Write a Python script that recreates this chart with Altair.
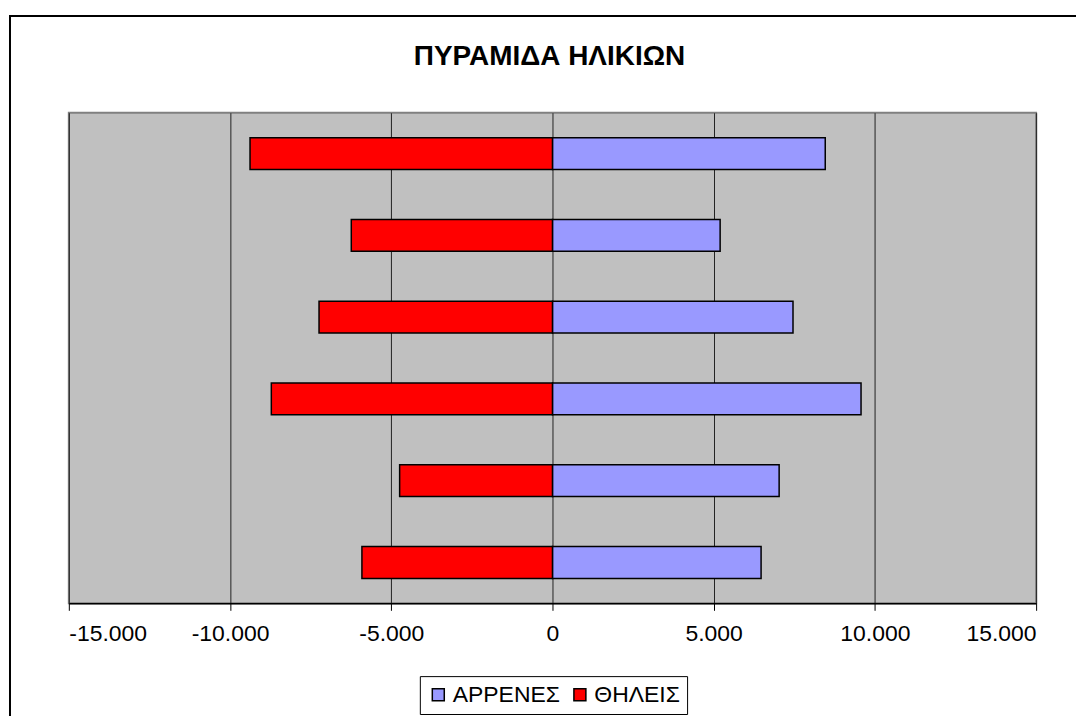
import altair as alt
import pandas as pd

# Age groups (bottom to top, as in the original Excel pyramid); axis labels hidden
categories = ["1", "2", "3", "4", "5", "6"]
males = [6470, 7030, 9570, 7460, 5200, 8460]
females = [5910, 4740, 8720, 7240, 6240, 9380]
series = ["ΑΡΡΕΝΕΣ", "ΘΗΛΕΙΣ"]
colors = ["#9999FF", "#FF0000"]
ticks = [-15000, -10000, -5000, 0, 5000, 10000, 15000]
title_text = "ΠΥΡΑΜΙΔΑ ΗΛΙΚΙΩΝ"

rows = []
for c, m, f in zip(categories, males, females):
    rows.append({"group": c, "sex": series[0], "value": m})
    rows.append({"group": c, "sex": series[1], "value": -f})
df = pd.DataFrame(rows)

FONT = "Liberation Sans"

frame = alt.Chart(pd.DataFrame({"a": [0]})).mark_rect(
    fill=None, stroke="black", strokeWidth=2
).encode(
    x=alt.value(-59), x2=alt.value(1100), y=alt.value(-97), y2=alt.value(700)
)

bars = alt.Chart(df).mark_bar(stroke="black", strokeWidth=1.5).encode(
    x=alt.X("value:Q",
            scale=alt.Scale(domain=[-15000, 15000], nice=False),
            axis=alt.Axis(values=ticks, title=None, grid=True,
                          gridColor="#222222", gridWidth=1,
                          domainColor="black", domainWidth=1.5,
                          tickColor="black", tickSize=7, tickWidth=1,
                          labelFont=FONT, labelFontSize=23, labelColor="black",
                          labelPadding=12,
                          labelExpr="(datum.value < 0 ? '-' : '') + replace(format(abs(datum.value), ','), ',', '.')")),
    y=alt.Y("group:N", sort="descending",
            scale=alt.Scale(paddingInner=0.61, paddingOuter=0.305),
            axis=None),
    color=alt.Color("sex:N",
                    scale=alt.Scale(domain=series, range=colors),
                    legend=alt.Legend(orient="none", legendX=352, legendY=565,
                                      direction="horizontal", title=None,
                                      fillColor="white", strokeColor="black",
                                      padding=7, symbolType="square",
                                      symbolSize=144, symbolStrokeColor="black",
                                      symbolStrokeWidth=1.5,
                                      labelFont=FONT, labelFontSize=23,
                                      labelColor="black", columnPadding=8,
                                      labelOffset=3)),
)

title = alt.Chart(pd.DataFrame({"t": [title_text]})).mark_text(
    font=FONT, fontSize=28, fontWeight="bold", color="black",
    align="center", baseline="alphabetic"
).encode(text="t:N", x=alt.value(482), y=alt.value(-48))

chart = alt.layer(frame, bars, title).properties(
    width=970, height=492,
    padding={"left": 61, "top": 104, "right": 40, "bottom": 112},
    autosize=alt.AutoSizeParams(type="none"),
    background="white",
).configure_view(
    fill="#C0C0C0", stroke="#808080", strokeWidth=2
)

chart.save("out.html", embed_options={"renderer": "svg", "actions": False})
